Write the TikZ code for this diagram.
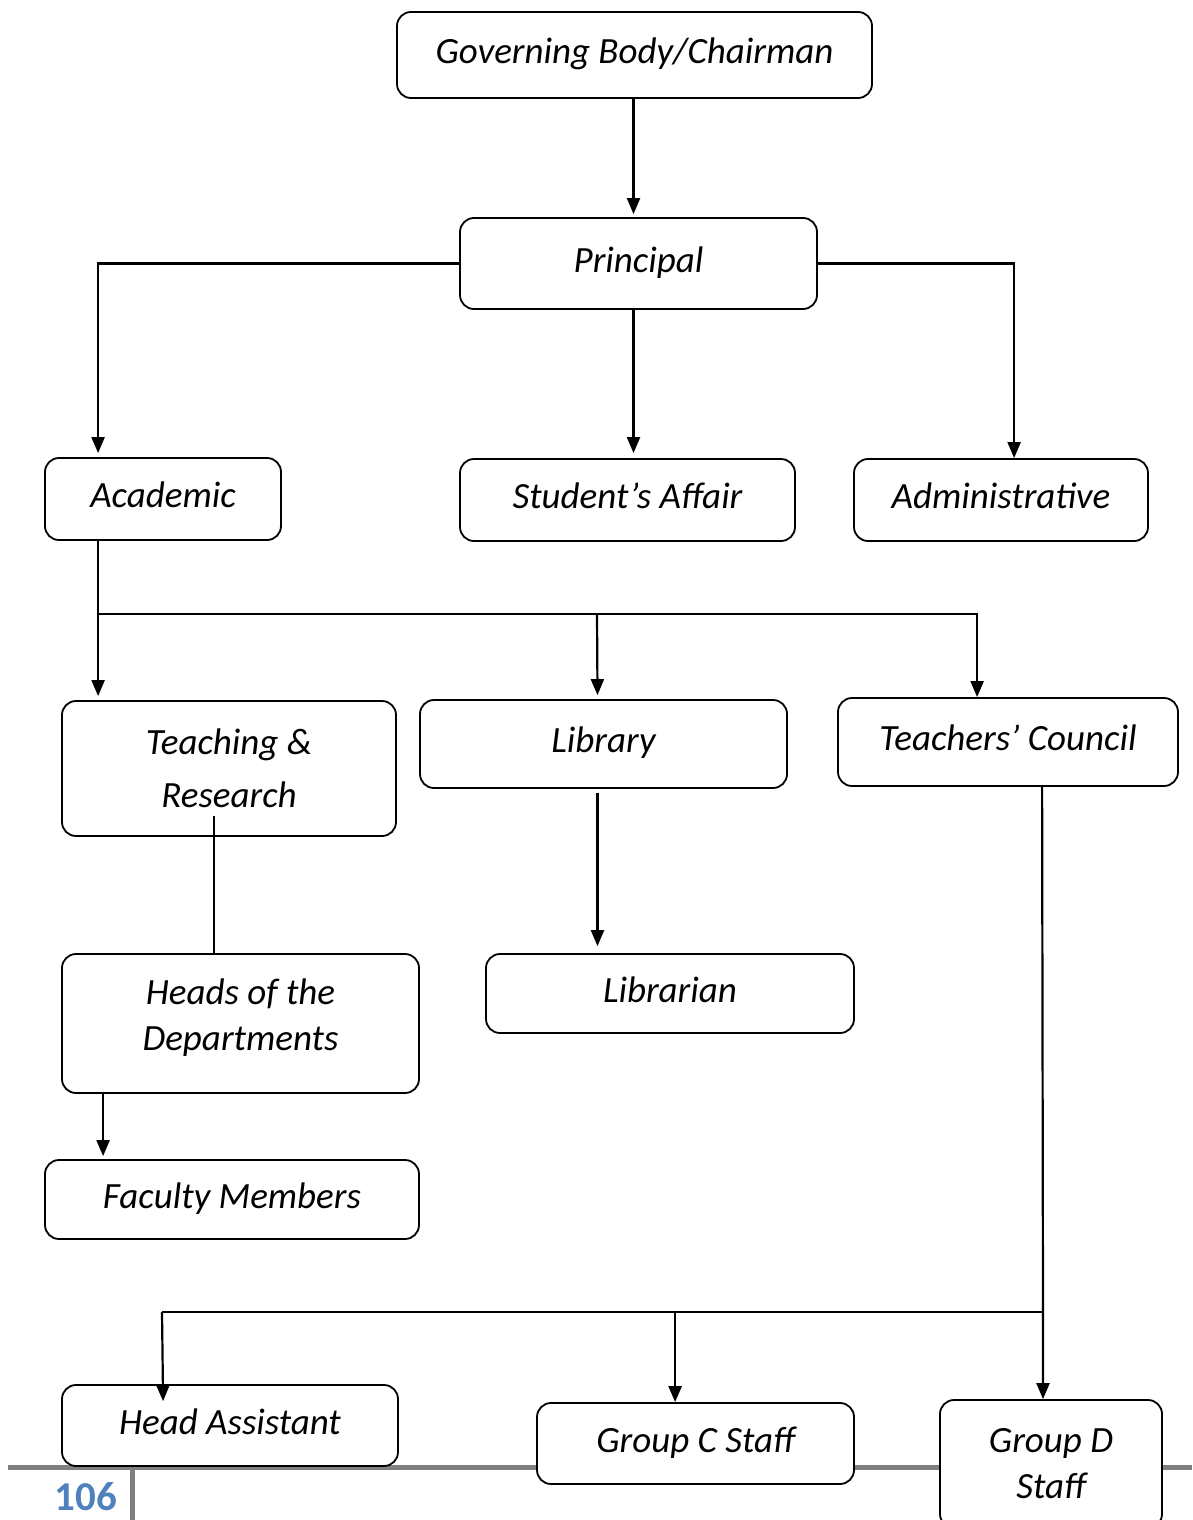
\documentclass[tikz,border=0pt]{standalone}
\usepackage{fontspec}
\setmainfont{Carlito}
\usetikzlibrary{arrows.meta}
\definecolor{pagegray}{RGB}{128,128,128}
\definecolor{pageblue}{RGB}{79,129,189}
\tikzset{
  orgbox/.style = {draw=black, fill=white, line width=1.8pt, rounded corners=14pt,
    inner sep=0pt, align=center, font=\fontsize{37}{46}\selectfont\itshape},% boite
  onebox/.style = {orgbox, text height=28pt, text depth=11pt},% boite, une ligne
  arr/.style = {-{Triangle[width=13pt,length=16pt]}, line width=2.2pt},% fleche
  link/.style = {line width=2.2pt}% trait simple
}
\begin{document}
\begin{tikzpicture}[x=1pt,y=-1pt]
\useasboundingbox (0,0) rectangle (1192,1520);
% pied de page
\draw[pagegray, line width=5pt] (8,1467) -- (1192,1467);
\draw[pagegray, line width=5pt] (132,1467) -- (132,1530);
\node[text=pageblue, font=\fontsize{41}{41}\selectfont\bfseries] (page) at (86,1497) {106};
% noeuds
\node [onebox, minimum width=475, minimum height=86] (gov) at (634.5,55) {Governing Body/Chairman};
\node [onebox, minimum width=357, minimum height=91] (prin) at (638.5,263.5) {Principal};
\node [onebox, minimum width=236, minimum height=82] (acad) at (163,499) {Academic};
\node [onebox, minimum width=335, minimum height=82] (stud) at (627.5,500) {Student’s Affair};
\node [onebox, minimum width=294, minimum height=82] (adm) at (1001,500) {Administrative};
\node [orgbox, minimum width=334, minimum height=135] (teach) at (229,768.5) {Teaching \&\\[7pt] Research};
\node [onebox, minimum width=367, minimum height=88] (lib) at (603.5,744) {Library};
\node [onebox, minimum width=340, minimum height=88] (tc) at (1008,742) {Teachers’ Council};
\node [orgbox, minimum width=357, minimum height=139, text depth=17pt] (heads) at (240.5,1023.5) {Heads of the\\ Departments};
\node [onebox, minimum width=368, minimum height=79] (lbr) at (670,993.5) {Librarian};
\node [onebox, minimum width=374, minimum height=79] (fac) at (232,1199.5) {Faculty Members};
\node [onebox, minimum width=336, minimum height=81] (ha) at (230,1425.5) {Head Assistant};
\node [onebox, minimum width=317, minimum height=81] (gc) at (695.5,1443.5) {Group C Staff};
\node [orgbox, minimum width=222, minimum height=128] (gd) at (1051,1464) {Group D\\ Staff};
% liens
\draw[arr] ([xshift=-1pt]gov.south) -- ([xshift=-1pt,yshift=3pt]gov.south |- prin.north);
\draw[arr] (prin.west) -| ([xshift=54pt,yshift=4pt]acad.north west);
\draw[arr] ([xshift=-5pt]prin.south) -- ([xshift=-5pt,yshift=5pt]prin.south |- stud.north);
\draw[arr] (prin.east) -| ([xshift=161pt]adm.north west);
\coordinate (j1) at (99,614);
\draw[arr] ([xshift=54pt]acad.south west) -- ([xshift=37pt,yshift=4pt]teach.north west);
\draw[link] (j1) -- (978,614);
\draw[arr] (j1 -| 597,0) -- ([xshift=-6pt,yshift=4pt]lib.north);
\draw[arr] ([xshift=140pt]tc.north west |- j1) -- ([xshift=140pt]tc.north west);
\draw[link] ([xshift=-15pt,yshift=21pt]teach.south) coordinate (tr) -- (tr |- heads.north);
\draw[arr] ([xshift=42pt]heads.south west) -- ([xshift=42pt,yshift=3pt]heads.south west |- fac.north);
\draw[arr] ([xshift=-6pt,yshift=-4pt]lib.south) -- ([xshift=-6pt,yshift=7pt]lib.south |- lbr.north);
\coordinate (j2) at (1043,1312);
\coordinate (j3) at (162,1312);
\draw[arr] ([xshift=205pt]tc.south west) -- (j2) -- ([xshift=-8pt]gd.north);
\draw[link] (j2) -- (j3);
\draw[arr] (j3) -- ([xshift=102pt,yshift=-17pt]ha.north west);
\draw[arr] ([xshift=139pt]gc.north west |- j3) -- ([xshift=139pt]gc.north west);
\end{tikzpicture}
\end{document}
